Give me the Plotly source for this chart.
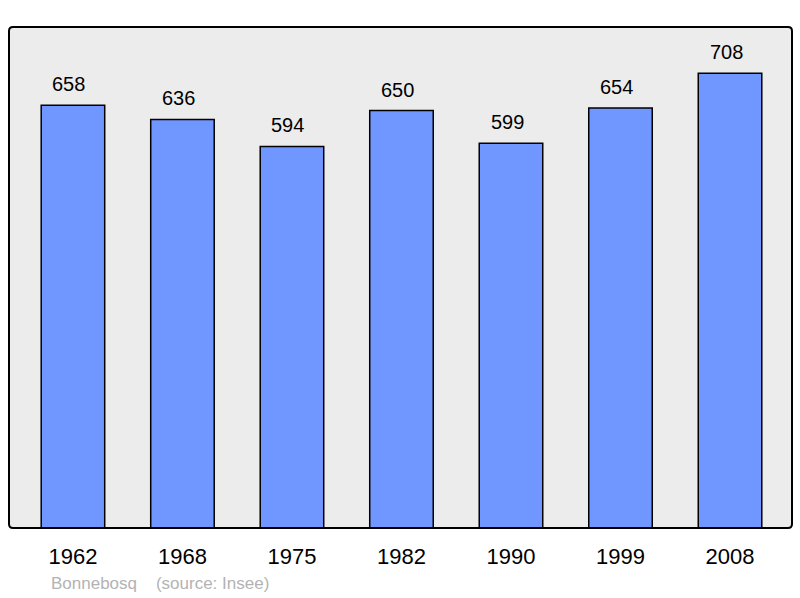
import plotly.graph_objects as go

years = ["1962", "1968", "1975", "1982", "1990", "1999", "2008"]
population = [658, 636, 594, 650, 599, 654, 708]
positions = list(range(len(years)))

fig = go.Figure()
fig.add_trace(go.Bar(
    x=positions, y=population, width=0.58,
    marker=dict(color="#7096ff", line=dict(color="#000000", width=1.5)),
    hoverinfo="skip",
))

for xp, v in zip(positions, population):
    fig.add_annotation(x=xp, y=v, text=str(v), showarrow=False,
                       yanchor="bottom", yshift=8, xshift=-4,
                       font=dict(family="Liberation Sans, Arial", size=20, color="#000"))

fig.add_annotation(xref="paper", yref="paper", x=(49 - 9) / 783, y=-0.11,
                   xanchor="left", yanchor="middle", showarrow=False,
                   text="Bonnebosq&nbsp;&nbsp;&nbsp;&nbsp;(source: Insee)",
                   font=dict(family="Liberation Sans, Arial", size=17, color="#b3b3b3"))

# rounded frame around the plot area
rx, ry = 4 / 783, 4 / 501
path = (f"M {rx},0 L {1-rx},0 Q 1,0 1,{ry} L 1,{1-ry} Q 1,1 {1-rx},1 "
        f"L {rx},1 Q 0,1 0,{1-ry} L 0,{ry} Q 0,0 {rx},0 Z")
fig.add_shape(type="path", xref="paper", yref="paper", path=path,
              line=dict(color="#000", width=2), layer="above")

fig.update_layout(
    width=800, height=598,
    margin=dict(l=9, r=8, t=27, b=70),
    paper_bgcolor="#ffffff", plot_bgcolor="#ececec",
    showlegend=False,
    xaxis=dict(range=[-0.584, 6.566], tickvals=positions, ticktext=years,
               showgrid=False, zeroline=False, ticks="outside", ticklen=9,
               tickcolor="rgba(0,0,0,0)", showline=False,
               tickfont=dict(family="Liberation Sans, Arial", size=22, color="#000")),
    yaxis=dict(range=[0, 780], showgrid=False, zeroline=False, showticklabels=False,
               ticks=""),
)

fig.write_html("out.html", config={"displayModeBar": False, "staticPlot": True},
               post_script="document.body.style.margin='0';document.body.style.overflow='hidden';")
